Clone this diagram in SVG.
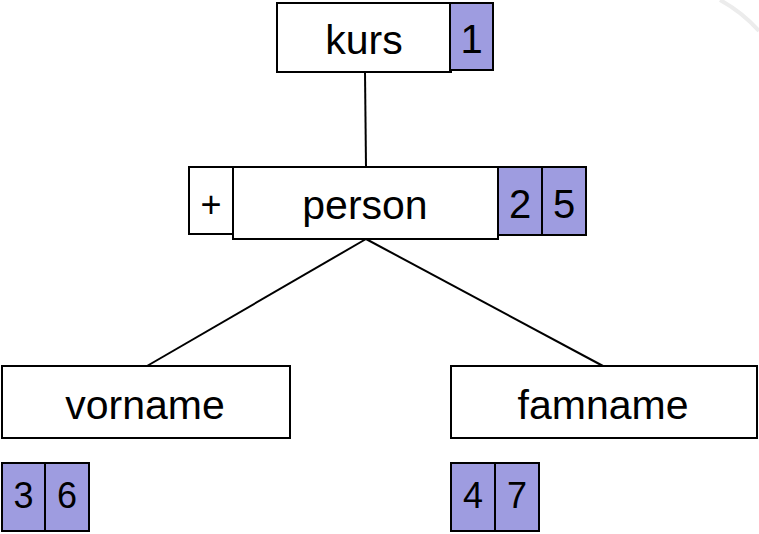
<svg xmlns="http://www.w3.org/2000/svg" width="759" height="534" viewBox="0 0 759 534">
<style>
.box{fill:#ffffff;stroke:#000;stroke-width:2}
.num{fill:#9e9ce0;stroke:#000;stroke-width:2}
.lbl{font-family:"Liberation Sans",Arial,sans-serif;font-size:41px;fill:#000;text-anchor:middle}
.dig{font-family:"Liberation Sans",Arial,sans-serif;font-size:40px;fill:#000;text-anchor:middle}
.digs{font-family:"Liberation Sans",Arial,sans-serif;font-size:36px;fill:#000;text-anchor:middle}
.edge{stroke:#000;stroke-width:2;fill:none}
</style>
<rect width="759" height="534" fill="#ffffff"/>
<path d="M720,0 Q742,12 759,31" stroke="#ececec" stroke-width="4" fill="none"/>
<g id="connectors">
<line class="edge" x1="365" y1="72" x2="366" y2="167"/>
<line class="edge" x1="366" y1="239" x2="147" y2="366"/>
<line class="edge" x1="366" y1="239" x2="603" y2="366"/>
</g>
<g id="kurs">
<rect class="box" x="277" y="3" width="174" height="69"/>
<text class="lbl" x="364" y="54">kurs</text>
<rect class="num" x="450" y="3" width="43" height="67"/>
<text class="dig" x="471.5" y="53">1</text>
</g>
<g id="person">
<rect class="box" x="189" y="167" width="44" height="67"/>
<text class="lbl" x="211" y="217" style="font-size:36px">+</text>
<rect class="box" x="233" y="167" width="265" height="72"/>
<text class="lbl" x="365" y="219">person</text>
<rect class="num" x="498" y="167" width="44" height="68"/>
<text class="dig" x="520" y="218">2</text>
<rect class="num" x="542" y="167" width="44" height="68"/>
<text class="dig" x="564" y="218">5</text>
</g>
<g id="vorname">
<rect class="box" x="2" y="366" width="288" height="72"/>
<text class="lbl" x="145" y="419">vorname</text>
<rect class="num" x="2" y="463" width="43" height="68"/>
<text class="digs" x="23.5" y="508">3</text>
<rect class="num" x="45" y="463" width="44" height="68"/>
<text class="digs" x="67" y="508">6</text>
</g>
<g id="famname">
<rect class="box" x="451" y="366" width="306" height="72"/>
<text class="lbl" x="603" y="419">famname</text>
<rect class="num" x="451" y="463" width="44" height="68"/>
<text class="digs" x="473" y="508">4</text>
<rect class="num" x="495" y="463" width="44" height="68"/>
<text class="digs" x="517" y="508">7</text>
</g>
</svg>
